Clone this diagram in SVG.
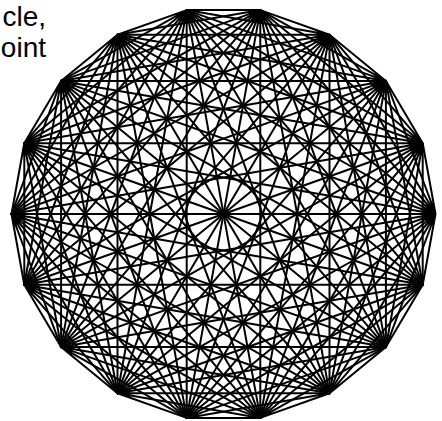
<svg xmlns="http://www.w3.org/2000/svg" width="442" height="421" viewBox="0 0 442 421">
<style>
.e{fill:none;stroke:#000;stroke-width:2;stroke-linecap:round}
.t{font-family:"Liberation Sans",Arial,sans-serif;font-size:28px;fill:#000}
</style>
<rect width="442" height="421" fill="#fff"/>
<g id="label">
<text class="t" x="46" y="26" text-anchor="end">cle,</text>
<text class="t" x="46" y="57" text-anchor="end">oint</text>
</g>
<g id="connectors">
<path id="v0" class="e" d="M435.5,214L422.7,143.2M435.5,214L385.9,80.9M435.5,214L329.5,34.7M435.5,214L260.3,10.1M435.5,214L186.7,10.1M435.5,214L117.5,34.7M435.5,214L61.1,80.9M435.5,214L24.3,143.2M435.5,214L11.5,214M435.5,214L24.3,284.8M435.5,214L61.1,347.1M435.5,214L117.5,393.3M435.5,214L186.7,417.9M435.5,214L260.3,417.9M435.5,214L329.5,393.3M435.5,214L385.9,347.1M435.5,214L422.7,284.8"/>
<path id="v1" class="e" d="M422.7,143.2L385.9,80.9M422.7,143.2L329.5,34.7M422.7,143.2L260.3,10.1M422.7,143.2L186.7,10.1M422.7,143.2L117.5,34.7M422.7,143.2L61.1,80.9M422.7,143.2L24.3,143.2M422.7,143.2L11.5,214M422.7,143.2L24.3,284.8M422.7,143.2L61.1,347.1M422.7,143.2L117.5,393.3M422.7,143.2L186.7,417.9M422.7,143.2L260.3,417.9M422.7,143.2L329.5,393.3M422.7,143.2L385.9,347.1M422.7,143.2L422.7,284.8"/>
<path id="v2" class="e" d="M385.9,80.9L329.5,34.7M385.9,80.9L260.3,10.1M385.9,80.9L186.7,10.1M385.9,80.9L117.5,34.7M385.9,80.9L61.1,80.9M385.9,80.9L24.3,143.2M385.9,80.9L11.5,214M385.9,80.9L24.3,284.8M385.9,80.9L61.1,347.1M385.9,80.9L117.5,393.3M385.9,80.9L186.7,417.9M385.9,80.9L260.3,417.9M385.9,80.9L329.5,393.3M385.9,80.9L385.9,347.1M385.9,80.9L422.7,284.8"/>
<path id="v3" class="e" d="M329.5,34.7L260.3,10.1M329.5,34.7L186.7,10.1M329.5,34.7L117.5,34.7M329.5,34.7L61.1,80.9M329.5,34.7L24.3,143.2M329.5,34.7L11.5,214M329.5,34.7L24.3,284.8M329.5,34.7L61.1,347.1M329.5,34.7L117.5,393.3M329.5,34.7L186.7,417.9M329.5,34.7L260.3,417.9M329.5,34.7L329.5,393.3M329.5,34.7L385.9,347.1M329.5,34.7L422.7,284.8"/>
<path id="v4" class="e" d="M260.3,10.1L186.7,10.1M260.3,10.1L117.5,34.7M260.3,10.1L61.1,80.9M260.3,10.1L24.3,143.2M260.3,10.1L11.5,214M260.3,10.1L24.3,284.8M260.3,10.1L61.1,347.1M260.3,10.1L117.5,393.3M260.3,10.1L186.7,417.9M260.3,10.1L260.3,417.9M260.3,10.1L329.5,393.3M260.3,10.1L385.9,347.1M260.3,10.1L422.7,284.8"/>
<path id="v5" class="e" d="M186.7,10.1L117.5,34.7M186.7,10.1L61.1,80.9M186.7,10.1L24.3,143.2M186.7,10.1L11.5,214M186.7,10.1L24.3,284.8M186.7,10.1L61.1,347.1M186.7,10.1L117.5,393.3M186.7,10.1L186.7,417.9M186.7,10.1L260.3,417.9M186.7,10.1L329.5,393.3M186.7,10.1L385.9,347.1M186.7,10.1L422.7,284.8"/>
<path id="v6" class="e" d="M117.5,34.7L61.1,80.9M117.5,34.7L24.3,143.2M117.5,34.7L11.5,214M117.5,34.7L24.3,284.8M117.5,34.7L61.1,347.1M117.5,34.7L117.5,393.3M117.5,34.7L186.7,417.9M117.5,34.7L260.3,417.9M117.5,34.7L329.5,393.3M117.5,34.7L385.9,347.1M117.5,34.7L422.7,284.8"/>
<path id="v7" class="e" d="M61.1,80.9L24.3,143.2M61.1,80.9L11.5,214M61.1,80.9L24.3,284.8M61.1,80.9L61.1,347.1M61.1,80.9L117.5,393.3M61.1,80.9L186.7,417.9M61.1,80.9L260.3,417.9M61.1,80.9L329.5,393.3M61.1,80.9L385.9,347.1M61.1,80.9L422.7,284.8"/>
<path id="v8" class="e" d="M24.3,143.2L11.5,214M24.3,143.2L24.3,284.8M24.3,143.2L61.1,347.1M24.3,143.2L117.5,393.3M24.3,143.2L186.7,417.9M24.3,143.2L260.3,417.9M24.3,143.2L329.5,393.3M24.3,143.2L385.9,347.1M24.3,143.2L422.7,284.8"/>
<path id="v9" class="e" d="M11.5,214L24.3,284.8M11.5,214L61.1,347.1M11.5,214L117.5,393.3M11.5,214L186.7,417.9M11.5,214L260.3,417.9M11.5,214L329.5,393.3M11.5,214L385.9,347.1M11.5,214L422.7,284.8"/>
<path id="v10" class="e" d="M24.3,284.8L61.1,347.1M24.3,284.8L117.5,393.3M24.3,284.8L186.7,417.9M24.3,284.8L260.3,417.9M24.3,284.8L329.5,393.3M24.3,284.8L385.9,347.1M24.3,284.8L422.7,284.8"/>
<path id="v11" class="e" d="M61.1,347.1L117.5,393.3M61.1,347.1L186.7,417.9M61.1,347.1L260.3,417.9M61.1,347.1L329.5,393.3M61.1,347.1L385.9,347.1M61.1,347.1L422.7,284.8"/>
<path id="v12" class="e" d="M117.5,393.3L186.7,417.9M117.5,393.3L260.3,417.9M117.5,393.3L329.5,393.3M117.5,393.3L385.9,347.1M117.5,393.3L422.7,284.8"/>
<path id="v13" class="e" d="M186.7,417.9L260.3,417.9M186.7,417.9L329.5,393.3M186.7,417.9L385.9,347.1M186.7,417.9L422.7,284.8"/>
<path id="v14" class="e" d="M260.3,417.9L329.5,393.3M260.3,417.9L385.9,347.1M260.3,417.9L422.7,284.8"/>
<path id="v15" class="e" d="M329.5,393.3L385.9,347.1M329.5,393.3L422.7,284.8"/>
<path id="v16" class="e" d="M385.9,347.1L422.7,284.8"/>
</g>
</svg>
